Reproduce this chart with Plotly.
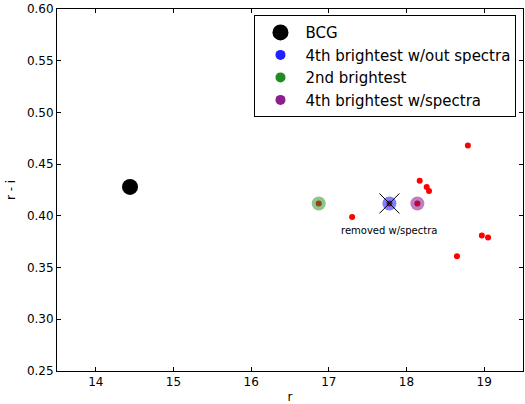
import plotly.graph_objects as go

# Galaxy photometry: r magnitude vs r - i colour
bcg_r = [14.44]
bcg_ri = [0.428]

second_r = [16.87]
second_ri = [0.412]

fourth_nospec_r = [17.78]
fourth_nospec_ri = [0.412]

fourth_spec_r = [18.14]
fourth_spec_ri = [0.412]

members_r = [16.87, 17.78, 18.14, 18.79, 18.17, 18.26, 18.29, 17.30, 18.97, 19.05, 18.65]
members_ri = [0.412, 0.412, 0.412, 0.468, 0.434, 0.428, 0.424, 0.399, 0.381, 0.379, 0.361]

removed_r = [17.78]
removed_ri = [0.412]
removed_label = "removed w/spectra"

x_ticks = [14, 15, 16, 17, 18, 19]
y_ticks = [0.25, 0.30, 0.35, 0.40, 0.45, 0.50, 0.55, 0.60]

FONT = "DejaVu Sans"
BLUE = "#0000ff"
GREEN = "#228b22"
PURPLE = "#800080"

fig = go.Figure()

# red member galaxies underneath the highlighted objects
fig.add_trace(go.Scatter(x=members_r, y=members_ri, mode="markers",
                         marker=dict(color="red", size=6, line=dict(width=0)),
                         showlegend=False, hoverinfo="x+y"))

fig.add_trace(go.Scatter(x=bcg_r, y=bcg_ri, mode="markers",
                         marker=dict(color="black", size=16, line=dict(width=0)),
                         showlegend=False))
for xs, ys, col in [(fourth_nospec_r, fourth_nospec_ri, BLUE),
                    (second_r, second_ri, GREEN),
                    (fourth_spec_r, fourth_spec_ri, PURPLE)]:
    fig.add_trace(go.Scatter(x=xs, y=ys, mode="markers", opacity=0.5,
                             marker=dict(color=col, size=14, line=dict(width=0)),
                             showlegend=False))

fig.add_trace(go.Scatter(x=removed_r, y=removed_ri, mode="markers",
                         marker=dict(symbol="x-thin", size=20, color="black",
                                     line=dict(width=1, color="black")),
                         showlegend=False))

# legend entries drawn at full opacity
legend_items = [("BCG", "black", 16),
                ("4th brightest w/out spectra", "#2020ff", 10),
                ("2nd brightest", GREEN, 10),
                ("4th brightest w/spectra", "#8b1f8b", 10)]
for name, col, sz in legend_items:
    fig.add_trace(go.Scatter(x=[None], y=[None], mode="markers", name=name,
                             marker=dict(color=col, size=sz, line=dict(width=0))))

fig.add_annotation(x=removed_r[0], y=0.386, text=removed_label, showarrow=False,
                   font=dict(family=FONT, size=10, color="black"),
                   xanchor="center", yanchor="middle")

axis_common = dict(showgrid=False, zeroline=False, showline=True, linecolor="black",
                   linewidth=1, mirror="ticks", ticks="inside", ticklen=4,
                   tickcolor="black", tickfont=dict(family=FONT, size=12, color="black"))

fig.update_layout(
    width=525, height=404,
    margin=dict(l=57, r=2, t=9, b=33),
    plot_bgcolor="white", paper_bgcolor="white",
    font=dict(family=FONT, color="black"),
    xaxis=dict(range=[13.5, 19.5], tickvals=x_ticks,
               ticktext=[str(v) for v in x_ticks],
               title=dict(text="r", font=dict(family=FONT, size=12), standoff=4),
               **axis_common),
    yaxis=dict(range=[0.25, 0.60], tickvals=y_ticks,
               ticktext=[f"{v:.2f}" for v in y_ticks],
               title=dict(text="r - i", font=dict(family=FONT, size=12), standoff=8),
               **axis_common),
    legend=dict(x=0.986, y=0.983, xanchor="right", yanchor="top",
                bgcolor="white", bordercolor="black", borderwidth=1,
                font=dict(family=FONT, size=15, color="black"),
                itemsizing="trace", itemwidth=40, tracegroupgap=0),
    showlegend=True,
)

fig.write_html("out.html")
